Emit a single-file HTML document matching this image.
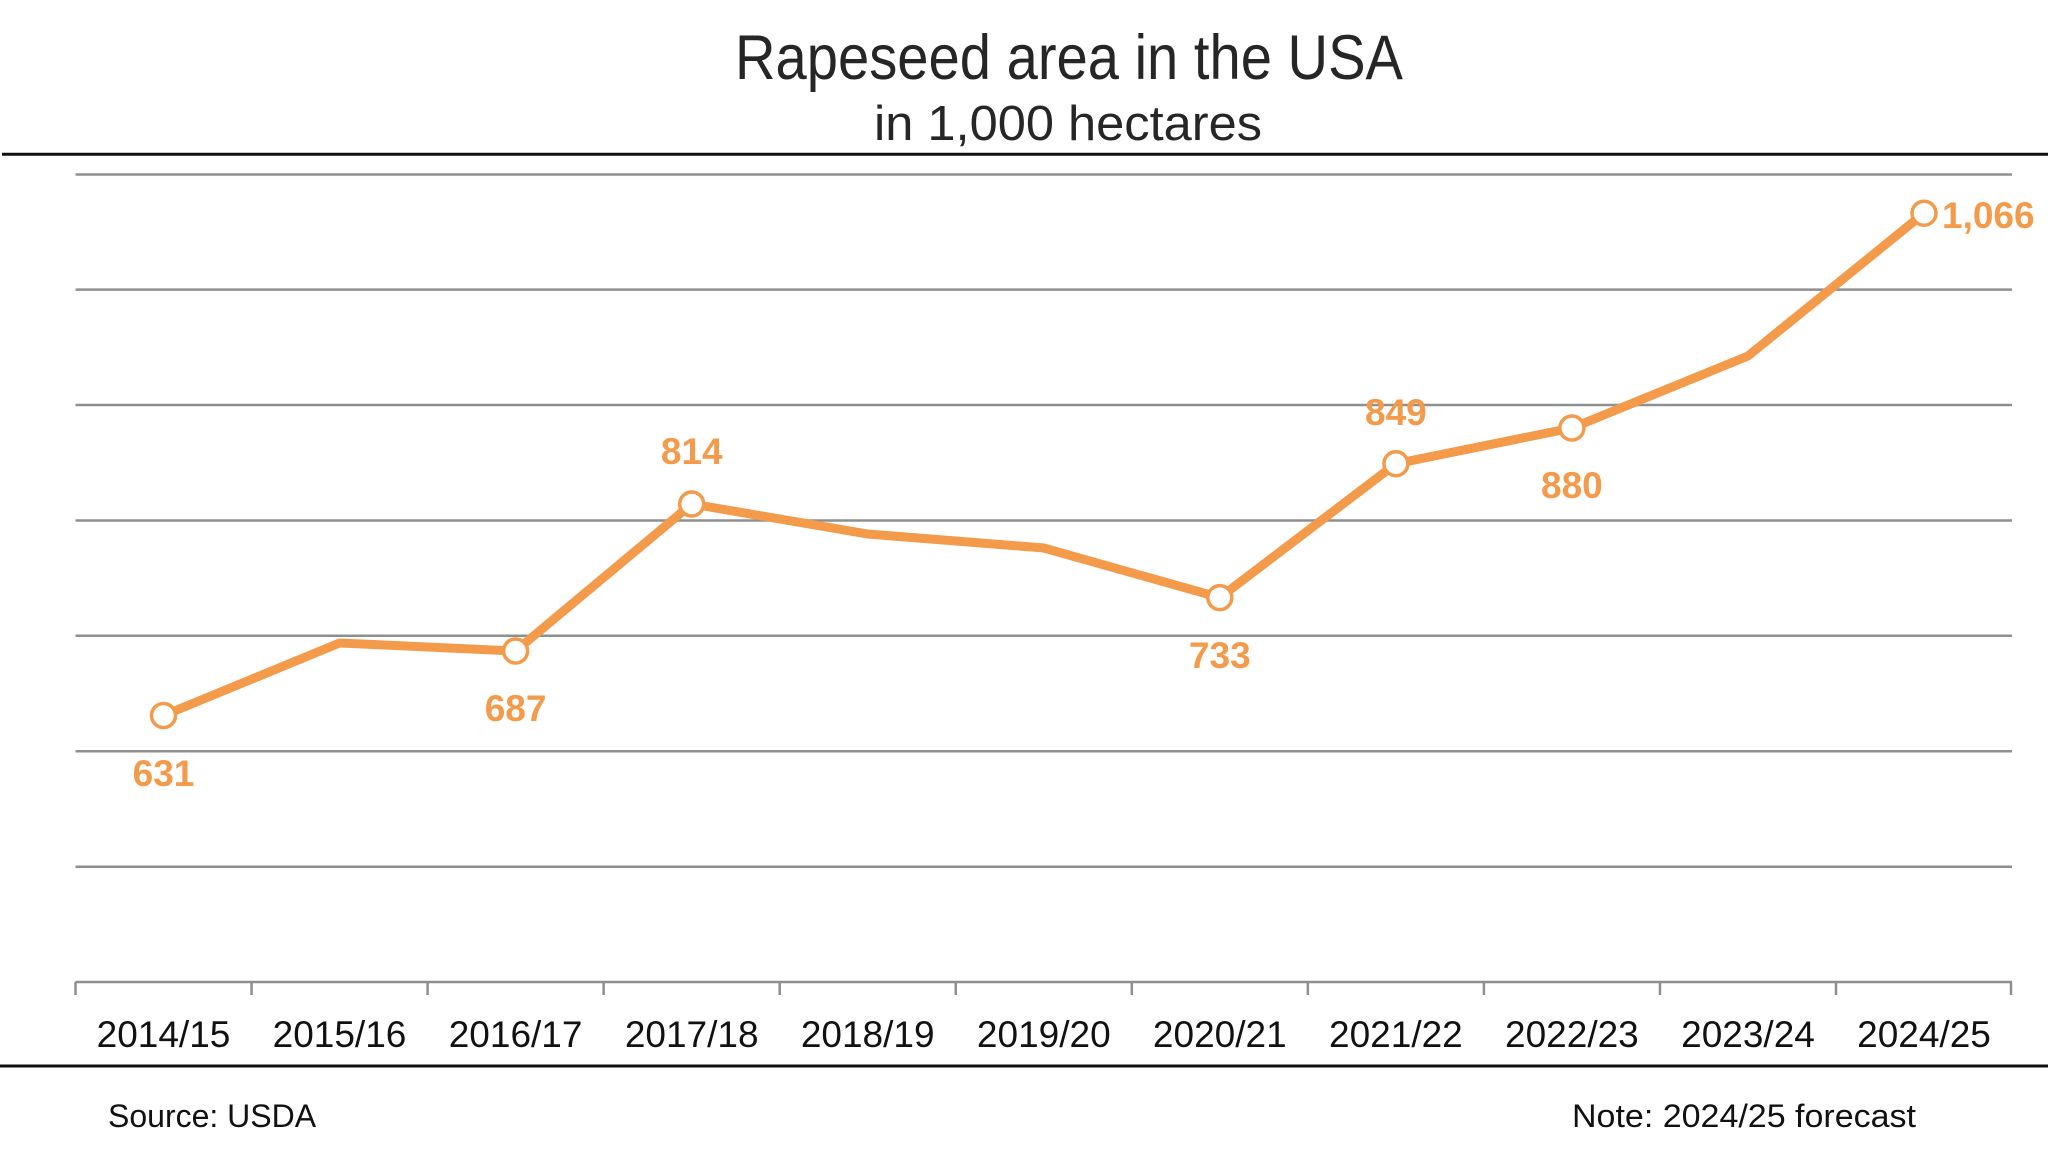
<!DOCTYPE html>
<html>
<head>
<meta charset="utf-8">
<style>
  html, body { margin: 0; padding: 0; background: #ffffff; }
  svg { display: block; }
  text { font-family: "Liberation Sans", "DejaVu Sans", sans-serif; }
</style>
</head>
<body>
<svg width="2048" height="1172" viewBox="0 0 2048 1172" xmlns="http://www.w3.org/2000/svg">
  <rect x="0" y="0" width="2048" height="1172" fill="#ffffff"/>

  <!-- Titles -->
  <text x="1069" y="79" font-size="63" fill="#262626" text-anchor="middle" textLength="668" lengthAdjust="spacingAndGlyphs">Rapeseed area in the USA</text>
  <text x="1068" y="140" font-size="49" fill="#262626" text-anchor="middle" textLength="388" lengthAdjust="spacingAndGlyphs">in 1,000 hectares</text>

  <!-- top separator -->
  <line x1="2" y1="154.2" x2="2048" y2="154.2" stroke="#111111" stroke-width="3"/>

  <!-- gridlines -->
  <g stroke="#8f8f8f" stroke-width="2.5">
    <line x1="75.5" y1="174.5" x2="2012" y2="174.5"/>
    <line x1="75.5" y1="289.6" x2="2012" y2="289.6"/>
    <line x1="75.5" y1="405" x2="2012" y2="405"/>
    <line x1="75.5" y1="520.5" x2="2012" y2="520.5"/>
    <line x1="75.5" y1="635.8" x2="2012" y2="635.8"/>
    <line x1="75.5" y1="751.2" x2="2012" y2="751.2"/>
    <line x1="75.5" y1="866.7" x2="2012" y2="866.7"/>
    <line x1="75.5" y1="982" x2="2012" y2="982"/>
    <!-- ticks -->
    <line x1="75.5" y1="982" x2="75.5" y2="995"/>
    <line x1="251.55" y1="982" x2="251.55" y2="995"/>
    <line x1="427.6" y1="982" x2="427.6" y2="995"/>
    <line x1="603.65" y1="982" x2="603.65" y2="995"/>
    <line x1="779.7" y1="982" x2="779.7" y2="995"/>
    <line x1="955.75" y1="982" x2="955.75" y2="995"/>
    <line x1="1131.8" y1="982" x2="1131.8" y2="995"/>
    <line x1="1307.85" y1="982" x2="1307.85" y2="995"/>
    <line x1="1483.9" y1="982" x2="1483.9" y2="995"/>
    <line x1="1659.95" y1="982" x2="1659.95" y2="995"/>
    <line x1="1836" y1="982" x2="1836" y2="995"/>
    <line x1="2011" y1="982" x2="2011" y2="995"/>
  </g>

  <!-- x labels -->
  <g font-size="37" fill="#111111" text-anchor="middle">
    <text x="163.5" y="1047">2014/15</text>
    <text x="339.5" y="1047">2015/16</text>
    <text x="515.6" y="1047">2016/17</text>
    <text x="691.7" y="1047">2017/18</text>
    <text x="867.7" y="1047">2018/19</text>
    <text x="1043.8" y="1047">2019/20</text>
    <text x="1219.8" y="1047">2020/21</text>
    <text x="1395.9" y="1047">2021/22</text>
    <text x="1571.9" y="1047">2022/23</text>
    <text x="1748" y="1047">2023/24</text>
    <text x="1924" y="1047">2024/25</text>
  </g>

  <!-- bottom separator -->
  <line x1="0" y1="1066" x2="2048" y2="1066" stroke="#111111" stroke-width="3"/>

  <!-- footer -->
  <text x="108" y="1127" font-size="32" fill="#111111">Source: USDA</text>
  <text x="1572" y="1127" font-size="32" fill="#111111" textLength="344" lengthAdjust="spacingAndGlyphs">Note: 2024/25 forecast</text>

  <!-- series -->
  <polyline fill="none" stroke="#F39A4B" stroke-width="9" stroke-linejoin="miter"
    points="163.5,715.5 339.5,643 515.6,651 691.7,504 867.7,534 1043.8,548 1219.8,597.6 1395.9,463.7 1571.9,428 1748,356 1924,213.2"/>

  <g fill="#ffffff" stroke="#F39A4B" stroke-width="3.5">
    <circle cx="163.5" cy="715.5" r="12"/>
    <circle cx="515.6" cy="651" r="12"/>
    <circle cx="691.7" cy="504" r="12"/>
    <circle cx="1219.8" cy="597.6" r="12"/>
    <circle cx="1395.9" cy="463.7" r="12"/>
    <circle cx="1571.9" cy="428" r="12"/>
    <circle cx="1924" cy="213.2" r="12"/>
  </g>

  <!-- data labels -->
  <g font-size="37" font-weight="bold" fill="#F39A4B" text-anchor="middle">
    <text x="163.5" y="786">631</text>
    <text x="515.6" y="721">687</text>
    <text x="691.7" y="464">814</text>
    <text x="1219.8" y="668">733</text>
    <text x="1395.9" y="425">849</text>
    <text x="1571.9" y="498">880</text>
  </g>
  <text x="1942" y="228" font-size="37" font-weight="bold" fill="#F39A4B">1,066</text>
</svg>
</body>
</html>
